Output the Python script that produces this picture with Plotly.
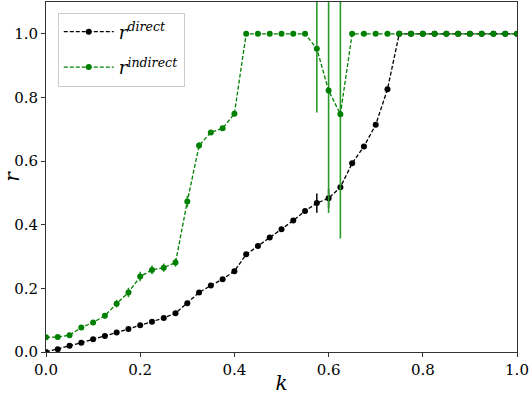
import plotly.graph_objects as go

k_values = [round(i * 0.025, 3) for i in range(41)]

r_direct = [0.0, 0.009, 0.020, 0.029, 0.040, 0.050, 0.061, 0.072, 0.084, 0.095,
            0.107, 0.122, 0.153, 0.187, 0.209, 0.229, 0.254, 0.307, 0.333, 0.360,
            0.386, 0.413, 0.443, 0.468, 0.483, 0.518, 0.593, 0.646, 0.714, 0.826,
            1.0, 1.0, 1.0, 1.0, 1.0, 1.0, 1.0, 1.0, 1.0, 1.0, 1.0]
err_direct = [0.0, 0.002, 0.002, 0.002, 0.002, 0.002, 0.002, 0.003, 0.003, 0.003,
              0.003, 0.004, 0.004, 0.004, 0.004, 0.004, 0.004, 0.004, 0.004, 0.004,
              0.004, 0.005, 0.006, 0.03, 0.03, 0.008, 0.006, 0.005, 0.004, 0.004,
              0.0, 0.0, 0.0, 0.0, 0.0, 0.0, 0.0, 0.0, 0.0, 0.0, 0.0]

r_indirect = [0.046, 0.047, 0.053, 0.077, 0.093, 0.114, 0.152, 0.187, 0.237, 0.258,
              0.265, 0.281, 0.473, 0.649, 0.690, 0.703, 0.749, 1.0, 1.0, 1.0,
              1.0, 1.0, 1.0, 0.953, 0.822, 0.747, 1.0, 1.0, 1.0, 1.0,
              1.0, 1.0, 1.0, 1.0, 1.0, 1.0, 1.0, 1.0, 1.0, 1.0, 1.0]
err_indirect = [0.004, 0.004, 0.005, 0.006, 0.007, 0.008, 0.012, 0.015, 0.015, 0.014,
                0.013, 0.013, 0.018, 0.01, 0.008, 0.008, 0.008, 0.0, 0.0, 0.0,
                0.0, 0.0, 0.0, 0.20, 0.385, 0.39, 0.0, 0.0, 0.0, 0.0,
                0.0, 0.0, 0.0, 0.0, 0.0, 0.0, 0.0, 0.0, 0.0, 0.0, 0.0]

x_ticks = [0.0, 0.2, 0.4, 0.6, 0.8, 1.0]
y_ticks = [0.0, 0.2, 0.4, 0.6, 0.8, 1.0]

FONT = "DejaVu Serif"
GREEN = "#008000"
DASH = "4px,2px"

fig = go.Figure()
fig.add_trace(go.Scatter(
    x=k_values, y=r_direct, mode="lines+markers",
    name="<i>r</i><sup><i>direct</i></sup>", legendgroup="a",
    line=dict(color="black", width=1.3, dash=DASH),
    marker=dict(color="black", size=6),
    error_y=dict(type="data", array=err_direct, color="black", thickness=1.5, width=0),
))
fig.add_trace(go.Scatter(
    x=k_values, y=r_indirect, mode="lines+markers",
    name="<i>r</i><sup><i>indirect</i></sup>", legendgroup="b",
    line=dict(color=GREEN, width=1.3, dash=DASH),
    marker=dict(color=GREEN, size=6),
    error_y=dict(type="data", array=err_indirect, color="#2a9a2a", thickness=1.6, width=0),
))

axis_common = dict(
    showgrid=False, zeroline=False, showline=True, linecolor="#333333", linewidth=1,
    mirror=True, ticks="outside", ticklen=4, tickcolor="#333333", automargin=False,
    tickfont=dict(family=FONT, size=15, color="black"),
)
fig.update_xaxes(range=[0, 1], tickvals=x_ticks, ticktext=[f"{v:.1f}" for v in x_ticks],
                 title=dict(text="<i>k</i>", font=dict(family=FONT, size=20, color="black"), standoff=2),
                 **axis_common)
fig.update_yaxes(range=[0, 1.1], tickvals=y_ticks, ticktext=[f"{v:.1f}" for v in y_ticks],
                 title=dict(text="<i>r</i>", font=dict(family=FONT, size=20, color="black"), standoff=2),
                 **axis_common)

fig.update_layout(
    width=532, height=395,
    margin=dict(l=46, r=15, t=2, b=43),
    plot_bgcolor="white", paper_bgcolor="white",
    showlegend=True,
    legend=dict(x=0.025, y=0.97, xanchor="left", yanchor="top",
                bgcolor="rgba(255,255,255,0.8)", bordercolor="#cccccc", borderwidth=1,
                font=dict(family=FONT, size=18, color="black"),
                itemwidth=50, tracegroupgap=9),
)

fig.write_html("out.html", config={"displayModeBar": False},
               post_script="document.body.style.margin='0';")
